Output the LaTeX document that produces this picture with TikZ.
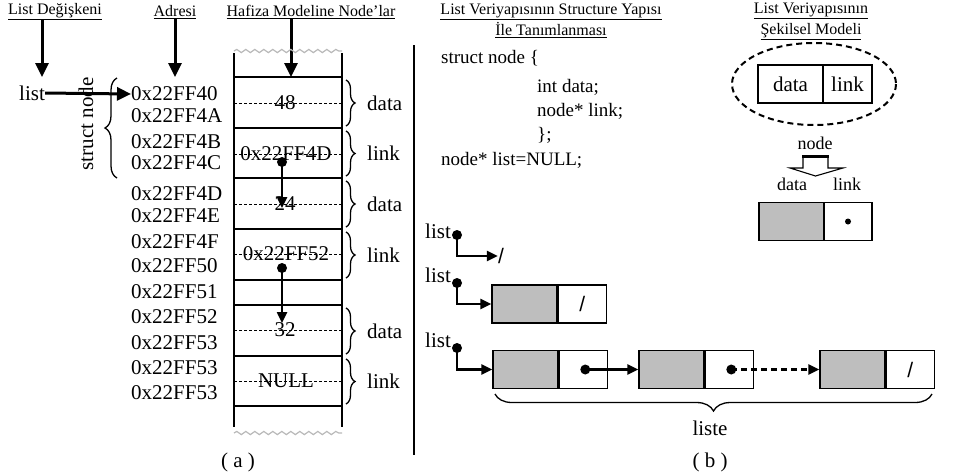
\documentclass[tikz,border=0pt]{standalone}
\usepackage{fontspec}
\setmainfont{Liberation Serif}
\usetikzlibrary{arrows.meta,decorations.pathreplacing,decorations.pathmorphing,positioning}

\definecolor{cellgray}{RGB}{190,190,190}

\tikzset{
  body/.style={font=\fontsize{21}{24}\selectfont, inner sep=0pt},
  code/.style={font=\fontsize{19}{22}\selectfont, inner sep=0pt, anchor=west},
  title/.style={font=\fontsize{16}{19}\selectfont, inner sep=0pt, align=center},
  bigarrow/.style={line width=3pt, -{Triangle[length=14pt,width=13pt]}},
  ptr/.style={line width=2.4pt, -{Triangle[length=11pt,width=10pt]}},
  cellline/.style={line width=1.3pt},
  midline/.style={line width=.7pt, dash pattern=on 2.5pt off 2.5pt},
  rbrace/.style={decorate, decoration={brace,amplitude=9pt}, line width=1.3pt},
  graycell/.style={draw, line width=1.3pt, fill=cellgray, minimum width=65pt, minimum height=38pt, inner sep=0pt},
  whitecell/.style={draw, line width=1.3pt, minimum width=48pt, minimum height=38pt, inner sep=0pt, body}
}

\begin{document}
\begin{tikzpicture}[x=1pt,y=-1pt]
\useasboundingbox (0,0) rectangle (958,475);

% titles of part (a)
\node[title] (tvar) at (55,12) {\underline{List Değişkeni}};
\node[title] (tadr) at (175,12) {\underline{Adresi}};
\node[title] (tmem) at (311,12) {\underline{Hafiza Modeline Node'lar}};

\node[body] (var) at (32,93) {list};
\coordinate (p1) at (42,77);
\coordinate (p2) at (175,77);
\coordinate (p3) at (291,77);
\draw[bigarrow] (tvar.south -| p1) -- (p1);
\draw[bigarrow] (tadr.south -| p2) -- (p2);
\draw[bigarrow] (tmem.south -| p3) -- (p3);

% addresses
\foreach \adr/\y [count=\i] in {0x22FF40/94,0x22FF4A/116,0x22FF4B/142,0x22FF4C/163,
  0x22FF4D/194,0x22FF4E/216,0x22FF4F/242,0x22FF50/266,0x22FF51/292,
  0x22FF52/317,0x22FF53/343,0x22FF53/368,0x22FF53/393}
  \node[body, anchor=west] (a\i) at (131,\y) {\adr};

\draw[bigarrow] (var.east) -- (a1.west);

\draw[decorate, decoration={brace,amplitude=12pt}, line width=1.3pt] (117,178) -- (117,78);
\node[body, rotate=90] (snode) at (86,124) {struct node};

% memory column
\draw[cellline] (234,53) -- (234,427);
\draw[cellline] (342,53) -- (342,427);
\foreach \y in {77,128,178,229,280,305,356,406}
  \draw[cellline] (234,\y) -- (342,\y);
\draw[gray!55, line width=1.2pt, decorate, decoration={snake,amplitude=1.6pt,segment length=9pt}] (234,51) -- (342,51);
\draw[gray!55, line width=1.2pt, decorate, decoration={snake,amplitude=1.6pt,segment length=9pt}] (234,433) -- (342,433);

\foreach \y in {103,154,204,254,330,381}
  \draw[midline] (234,\y) -- (342,\y);

\node[body] (v1) at (285,103) {48};
\node[body] (v2) at (286,154) {0x22FF4D};
\node[body] (v3) at (285,204) {24};
\node[body] (v4) at (286,254) {0x22FF52};
\node[body] (v5) at (285,330) {32};
\node[body] (v6) at (286,381) {NULL};

\coordinate (d1) at (282,162);
\coordinate (e1) at (282,208);
\coordinate (d2) at (282,268);
\coordinate (e2) at (282,323);
\fill (d1) circle (5);
\fill (d2) circle (5);
\draw[ptr] (d1) -- (e1);
\draw[ptr] (d2) -- (e2);

\foreach \ya/\yb/\lab [count=\i] in {80/126/data,131/176/link,181/227/data,
  232/278/link,308/354/data,359/404/link}{
  \draw[rbrace] (346,\ya) -- (346,\yb);
  \node[body, anchor=west] (f\i) at (367,{(\ya+\yb)/2}) {\lab};
}

\node[body] (capa) at (238,462) {( a )};

% separator
\draw[line width=1.6pt] (414,45) -- (414,455);

% titles of part (b)
\node[title] (tdef) at (551,21) {\underline{List Veriyapısının Structure Yapısı}\\[2pt]\underline{İle Tanımlanması}};
\node[title] (tmod) at (811,21) {\underline{List Veriyapısının}\\[2pt]\underline{Şekilsel Modeli}};

% code
\node[code] (c1) at (441,58) {struct node \{};
\node[code] (c2) at (537,87) {int data;};
\node[code] (c3) at (537,111) {node* link;};
\node[code] (c4) at (537,135) {\};};
\node[code] (c5) at (441,160) {node* list=NULL;};

% node model
\draw[line width=2pt, dash pattern=on 6pt off 4pt] (814,84) ellipse (82 and 41);
\node[whitecell, minimum width=65pt] (mdata) at (790.5,84) {data};
\node[whitecell, minimum width=49pt] (mlink) at (847.5,84) {link};

\node[font=\fontsize{18}{20}\selectfont, inner sep=0pt] (mnode) at (815,143) {node};
\draw[line width=1.1pt] (790,168) -- (803,168) -- (803,156) -- (828,156) -- (828,168)
  -- (843,168) -- (815.5,176) -- cycle;
\draw[line width=3pt] (802,156) -- (829,156);
\node[font=\fontsize{18}{20}\selectfont, inner sep=0pt] (ldata) at (792,184) {data};
\node[font=\fontsize{18}{20}\selectfont, inner sep=0pt] (llink) at (847,184) {link};

\node[graycell] (kdata) at (791.5,221.5) {};
\node[whitecell] (klink) at (848,221.5) {};
\fill (klink.center) circle (3);

% empty list
\node[body] (l1) at (438,231) {list};
\coordinate (q1) at (457,235);
\fill (q1) circle (5);
\node[body] (nil) at (501,256) {\fontspec{Liberation Sans}/};
\draw[ptr] (q1) |- (nil.west);

% one node
\node[body] (l2) at (438,275) {list};
\coordinate (q2) at (457,283);
\fill (q2) circle (5);
\node[graycell] (b1) at (524.5,304) {};
\node[whitecell, anchor=west] (b1l) at (b1.east) {\fontspec{Liberation Sans}/};
\draw[ptr] (q2) |- (b1.west);

% several nodes
\node[body] (l3) at (438,340) {list};
\coordinate (q3) at (457,348);
\fill (q3) circle (5);
\node[graycell] (c1d) at (525.5,369.5) {};
\node[whitecell, anchor=west] (c1l) at (c1d.east) {};
\node[graycell] (c2d) at (671.5,369.5) {};
\node[whitecell, anchor=west] (c2l) at (c2d.east) {};
\node[graycell] (c3d) at (852.5,369.5) {};
\node[whitecell, anchor=west] (c3l) at (c3d.east) {\fontspec{Liberation Sans}/};
\draw[ptr] (q3) |- (c1d.west);
\fill ([xshift=2pt]c1l.center) circle (5);
\fill ([xshift=2pt]c2l.center) circle (5);
\draw[ptr] ([xshift=2pt]c1l.center) -- (c2d.west);
\draw[ptr, dash pattern=on 6pt off 4pt] ([xshift=2pt]c2l.center) -- (c3d.west);

\draw[decorate, decoration={brace,amplitude=17pt}, line width=1.3pt] (932,394) -- (495,394);
\node[body] (liste) at (710,428) {liste};

\node[body] (capb) at (710,462) {( b )};

\end{tikzpicture}
\end{document}
